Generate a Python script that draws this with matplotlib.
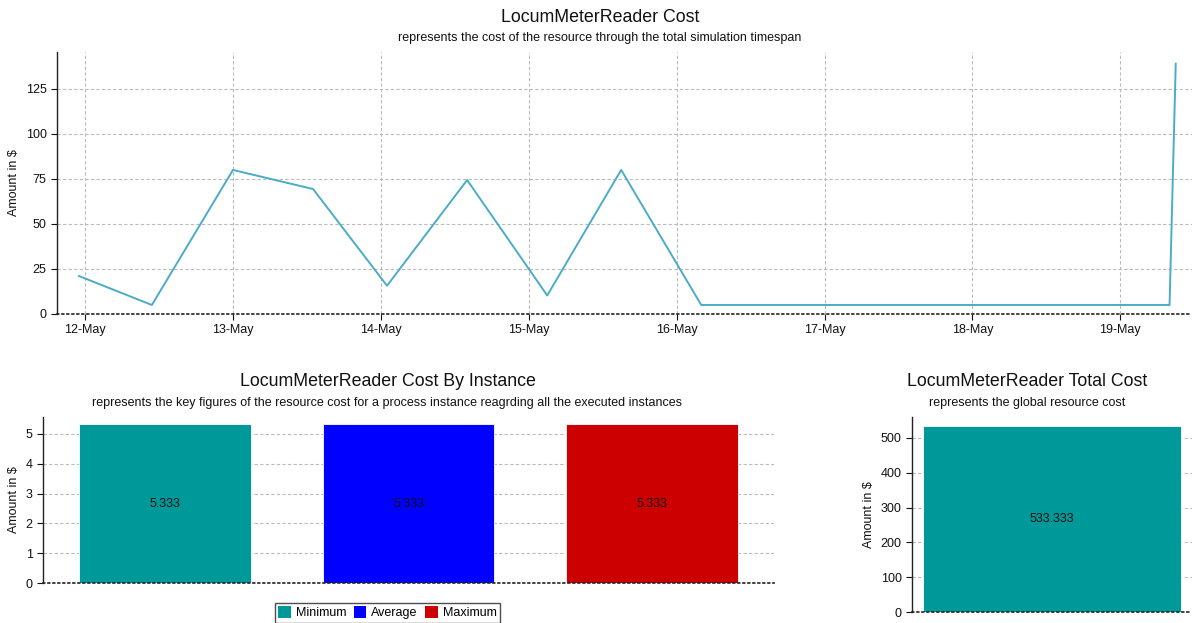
import matplotlib
matplotlib.use("Agg")
import matplotlib.pyplot as plt
import matplotlib.dates as mdates
from matplotlib.patches import Patch
import pandas as pd

plt.rcParams['font.family'] = ['Liberation Sans', 'DejaVu Sans']

# ---- data ----
timestamps = ["2024-05-11 23:00", "2024-05-12 10:50", "2024-05-13 00:00", "2024-05-13 13:00",
              "2024-05-14 01:00", "2024-05-14 14:00", "2024-05-15 03:00", "2024-05-15 15:00",
              "2024-05-16 04:00", "2024-05-19 08:00", "2024-05-19 09:00"]
cost_values = [21.1, 5.0, 80.0, 69.4, 15.7, 74.4, 10.3, 80.0, 5.0, 5.0, 139.0]

instance_labels = ["Minimum", "Average", "Maximum"]
instance_values = [5.333, 5.333, 5.333]
instance_colors = ["#009999", "#0000FF", "#CC0000"]

total_value = [533.333]
total_color = "#009999"

W, H = 1192, 623
fig = plt.figure(figsize=(W / 100, H / 100), dpi=100)

def fx(px):
    return px / W

def fy(py):
    return 1 - py / H

tick_fs = 9
title_fs = 12.8
sub_fs = 9
grid_kw = dict(color="#bbbbbb", linestyle=(0, (3, 2)), linewidth=0.8)

def style_axes(ax):
    for s in ("top", "right"):
        ax.spines[s].set_visible(False)
    ax.spines["left"].set_color("#222222")
    ax.spines["left"].set_linewidth(1.0)
    ax.spines["bottom"].set_color("#222222")
    ax.spines["bottom"].set_linestyle((0, (1, 2)))
    ax.spines["bottom"].set_linewidth(1.2)
    ax.tick_params(axis="both", labelsize=tick_fs, colors="#111111", length=4, width=0.8)
    ax.set_axisbelow(True)

# ---- top line chart ----
ax1 = fig.add_axes([fx(57), fy(314), fx(1192 - 57), (314 - 52) / H])
t = pd.to_datetime(timestamps)
ax1.plot(t, cost_values, color="#4BACC6", linewidth=1.4)
start = pd.Timestamp("2024-05-12")
ax1.set_xlim(start - pd.Timedelta(days=0.19), start + pd.Timedelta(days=7.485))
ax1.set_ylim(0, 145.5)
ax1.set_yticks([0, 25, 50, 75, 100, 125])
ax1.xaxis.set_major_locator(mdates.DayLocator())
ax1.xaxis.set_major_formatter(mdates.DateFormatter("%d-%b"))
ax1.grid(True, **grid_kw)
style_axes(ax1)
ax1.set_ylabel("Amount in $", fontsize=tick_fs, color="#111111")

fig.text(fx(600), fy(17), "LocumMeterReader Cost", ha="center", va="center", fontsize=title_fs, color="#111111")
fig.text(fx(600), fy(38), "represents the cost of the resource through the total simulation timespan",
         ha="center", va="center", fontsize=sub_fs, color="#111111")

# ---- bottom-left bar chart ----
ax2 = fig.add_axes([fx(43), fy(583.3), fx(774 - 43), (583.3 - 416.7) / H])
xpos = list(range(len(instance_labels)))
bars = ax2.bar(xpos, instance_values, width=0.705, color=instance_colors,
               edgecolor="white", linewidth=0.6)
for b, v in zip(bars, instance_values):
    ax2.text(b.get_x() + b.get_width() / 2, v / 2, f"{v:.3f}", ha="center", va="center",
             fontsize=tick_fs, color="#111111")
ax2.set_xlim(-0.5, 2.5)
ax2.set_ylim(0, 5.57)
ax2.set_yticks([0, 1, 2, 3, 4, 5])
ax2.set_xticks([])
ax2.yaxis.grid(True, **grid_kw)
style_axes(ax2)
ax2.set_ylabel("Amount in $", fontsize=tick_fs, color="#111111")

fig.text(fx(387.5), fy(381.5), "LocumMeterReader Cost By Instance", ha="center", va="center",
         fontsize=title_fs, color="#111111")
fig.text(fx(387.5), fy(403.3),
         "represents the key figures of the resource cost for a process instance reagrding all the executed instances",
         ha="center", va="center", fontsize=sub_fs, color="#111111")

handles = [Patch(facecolor=c, edgecolor="none", label=l) for c, l in zip(instance_colors, instance_labels)]
fig.legend(handles=handles, loc="upper center", bbox_to_anchor=(fx(387.5), fy(602.7)), ncol=3,
           fontsize=tick_fs, frameon=True, fancybox=False, edgecolor="#222222",
           handlelength=1.0, handleheight=1.0, handletextpad=0.4, columnspacing=0.6,
           borderpad=0.3, borderaxespad=0.0)

# ---- bottom-right total bar ----
ax3 = fig.add_axes([fx(912), fy(612.3), fx(1192 - 912), (612.3 - 416.7) / H])
ax3.bar([0], total_value, width=0.92, color=total_color, edgecolor="white", linewidth=0.6)
ax3.text(0, total_value[0] / 2, f"{total_value[0]:.3f}", ha="center", va="center",
         fontsize=tick_fs, color="#111111")
ax3.set_xlim(-0.5, 0.5)
ax3.set_ylim(0, 560)
ax3.set_yticks([0, 100, 200, 300, 400, 500])
ax3.set_xticks([])
ax3.yaxis.grid(True, **grid_kw)
style_axes(ax3)
ax3.set_ylabel("Amount in $", fontsize=tick_fs, color="#111111")

fig.text(fx(1027), fy(381.5), "LocumMeterReader Total Cost", ha="center", va="center",
         fontsize=title_fs, color="#111111")
fig.text(fx(1027), fy(403.3), "represents the global resource cost", ha="center", va="center",
         fontsize=sub_fs, color="#111111")

fig.savefig("out.png", dpi=100)
